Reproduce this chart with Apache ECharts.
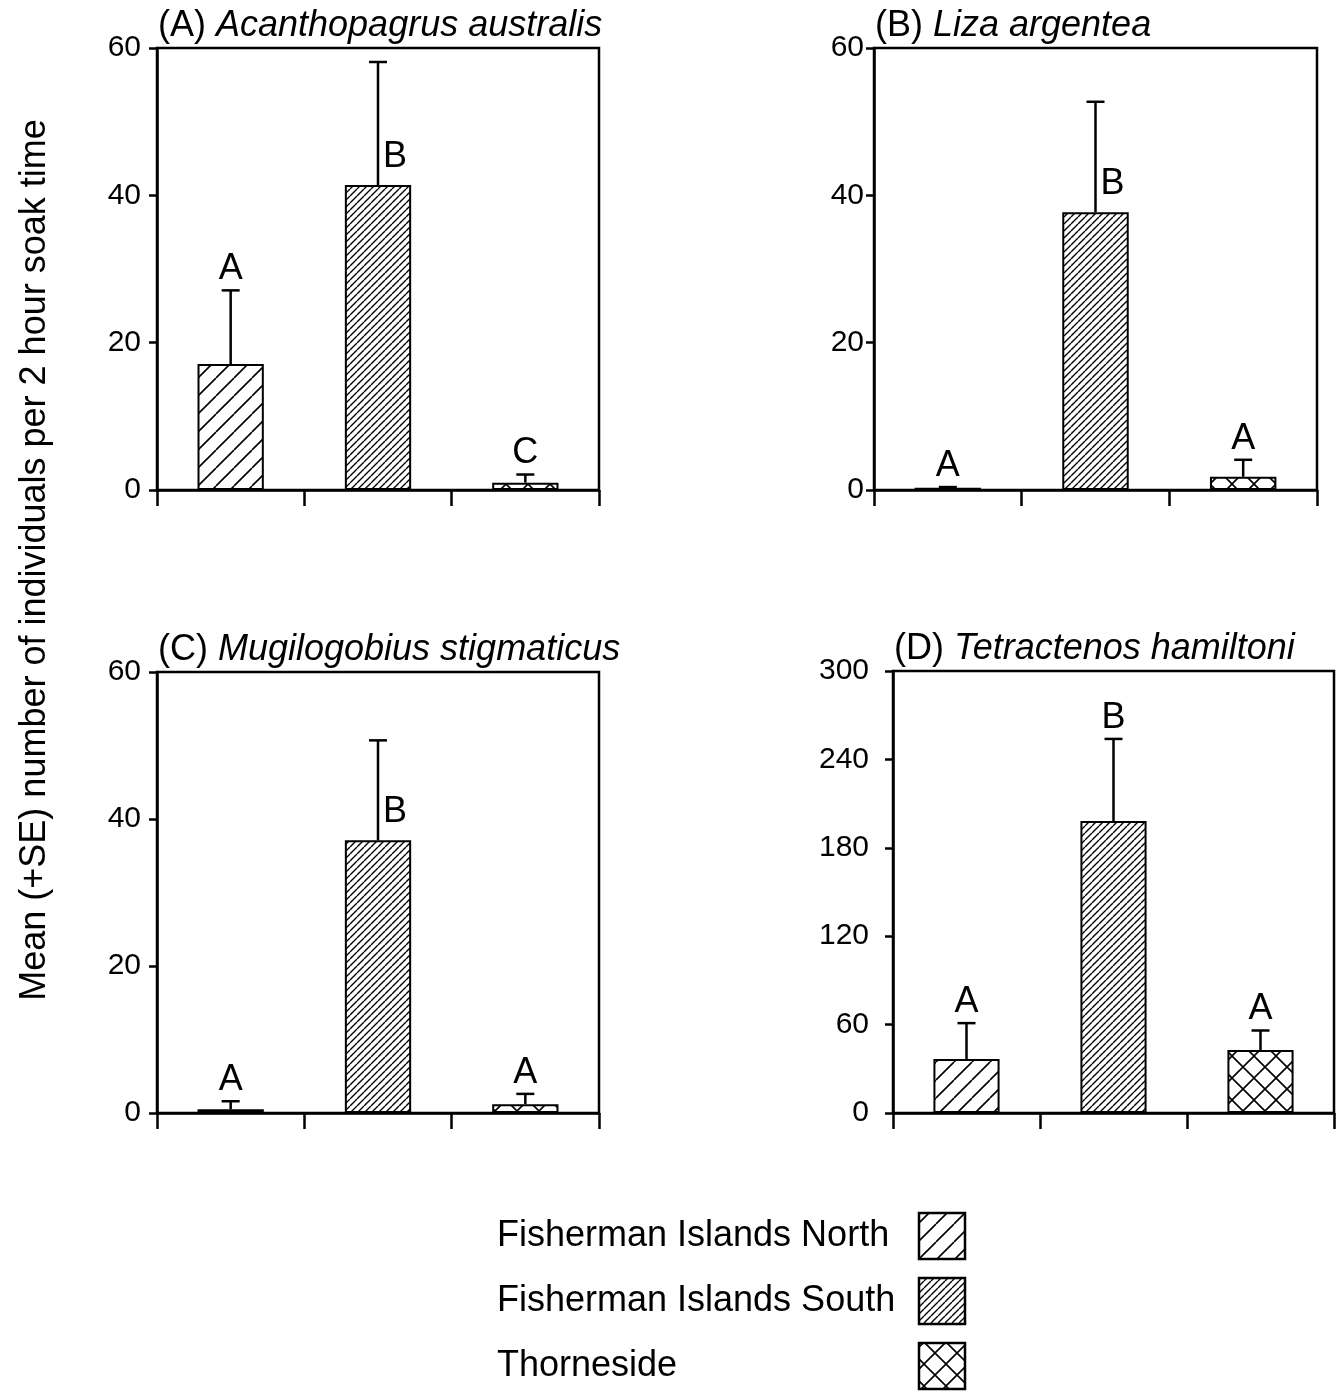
<!DOCTYPE html>
<html><head><meta charset="utf-8">
<script src="https://cdn.jsdelivr.net/npm/echarts@6/dist/echarts.min.js"></script>
<style>html,body{margin:0;padding:0;background:#fff}#c{width:1341px;height:1392px}</style>
</head><body><div id="c"></div>
<script>
// ---- data ----
const categories = ['Fisherman Islands North', 'Fisherman Islands South', 'Thorneside'];
const panelTags = ['(A) ', '(B) ', '(C) ', '(D) '];
const speciesNames = ['Acanthopagrus australis', 'Liza argentea', 'Mugilogobius stigmaticus', 'Tetractenos hamiltoni'];
const meanA = [17.1, 41.4, 1.0];
const seA   = [10.0, 16.7, 1.1];
const meanB = [0.3, 37.7, 1.8];
const seB   = [0.1, 15.0, 2.3];
const meanC = [0.5, 37.1, 1.2];
const seC   = [1.1, 13.6, 1.4];
const meanD = [36.7, 198.2, 42.8];
const seD   = [24.3, 55.7, 13.2];
const lettersA = ['A', 'B', 'C'];
const lettersB = ['A', 'B', 'A'];
const lettersC = ['A', 'B', 'A'];
const lettersD = ['A', 'B', 'A'];
const yMaxes = [60, 60, 60, 300];
const yIntervals = [20, 20, 20, 60];
const yTitle = 'Mean (+SE) number of individuals per 2 hour soak time';

// ---- styling ----
const FONT = '"Liberation Sans", Arial, Helvetica, sans-serif';
function hatch(size, lw, cross) {
  const c = document.createElement('canvas');
  c.width = c.height = size;
  const g = c.getContext('2d');
  g.fillStyle = '#fff'; g.fillRect(0, 0, size, size);
  g.strokeStyle = '#000'; g.lineWidth = lw;
  g.beginPath();
  for (const o of [-size, 0, size]) {
    g.moveTo(o, size); g.lineTo(o + size, 0);
    if (cross) { g.moveTo(o, 0); g.lineTo(o + size, size); }
  }
  g.stroke();
  return { image: c, repeat: 'repeat' };
}
const patterns = [hatch(18, 1.6, false), hatch(7, 1.4, false), hatch(22, 1.6, true)];

const means = [meanA, meanB, meanC, meanD];
const ses = [seA, seB, seC, seD];
const letters = [lettersA, lettersB, lettersC, lettersD];
// label beside the error bar (true) or on top of it (false)
const sideLabel = [[false, true, false], [false, true, false], [false, true, false], [false, false, false]];
const labelMargins = [16, 10, 16, 24];

const grids = [
  { left: 157, top: 48, width: 442, height: 442 },
  { left: 874, top: 48, width: 443, height: 442 },
  { left: 157, top: 672, width: 442, height: 441 },
  { left: 893, top: 671, width: 441, height: 442 }
];

const chart = echarts.init(document.getElementById('c'));
const option = {
  backgroundColor: '#fff',
  animation: false,
  grid: grids.map(g => Object.assign({ show: true, borderColor: '#000', borderWidth: 2.5, backgroundColor: 'transparent' }, g)),
  xAxis: grids.map((g, i) => ({
    type: 'category', gridIndex: i, data: categories, boundaryGap: true,
    axisLine: { lineStyle: { color: '#000', width: 2.5 } },
    axisTick: { show: true, interval: 0, length: 16, inside: false, alignWithLabel: false, lineStyle: { color: '#000', width: 2.5 } },
    axisLabel: { show: false, interval: 0 }, splitLine: { show: false }
  })),
  yAxis: grids.map((g, i) => ({
    type: 'value', gridIndex: i, min: 0, max: yMaxes[i], interval: yIntervals[i],
    axisLine: { show: true, lineStyle: { color: '#000', width: 2.5 } },
    axisTick: { show: true, length: 8, inside: false, lineStyle: { color: '#000', width: 2.5 } },
    axisLabel: { color: '#000', fontSize: 30, fontFamily: FONT, margin: labelMargins[i] },
    splitLine: { show: false }
  })),
  title: grids.map((g, i) => ({
    left: g.left + 1, top: g.top - 40, padding: 0,
    text: '{n|' + panelTags[i] + '}{i|' + speciesNames[i] + '}',
    textStyle: { fontWeight: 'normal', rich: {
      n: { fontSize: 36, fontFamily: FONT, fontWeight: 'normal', color: '#000' },
      i: { fontSize: 36, fontFamily: FONT, fontWeight: 'normal', fontStyle: 'italic', color: '#000' }
    } }
  })),
  series: [],
  graphic: []
};

grids.forEach((g, p) => {
  option.series.push({
    type: 'bar', xAxisIndex: p, yAxisIndex: p, barWidth: '45%',
    data: means[p].map((v, k) => ({ value: v, itemStyle: { color: patterns[k], borderColor: '#000', borderWidth: 2 } })),
    z: 2
  });
  option.series.push({
    type: 'custom', xAxisIndex: p, yAxisIndex: p, clip: false, z: 5,
    data: means[p].map((v, k) => [k, v, ses[p][k]]),
    renderItem: function (params, api) {
      const k = api.value(0), m = api.value(1), s = api.value(2);
      const b = api.coord([k, m]);
      const t = api.coord([k, m + s]);
      const cap = 9;
      const children = [
        { type: 'line', shape: { x1: b[0], y1: b[1], x2: t[0], y2: t[1] }, style: { stroke: '#000', lineWidth: 2.5 } },
        { type: 'line', shape: { x1: t[0] - cap, y1: t[1], x2: t[0] + cap, y2: t[1] }, style: { stroke: '#000', lineWidth: 2.5 } }
      ];
      const idx = params.dataIndex;
      const side = sideLabel[p][idx];
      children.push({
        type: 'text',
        style: {
          text: letters[p][idx],
          x: side ? b[0] + 5 : t[0],
          y: side ? b[1] - 10 : t[1] - 3,
          textAlign: side ? 'left' : 'center',
          textVerticalAlign: 'bottom',
          fontSize: 36, fontFamily: FONT, fill: '#000'
        }
      });
      return { type: 'group', children: children };
    }
  });
});

// y-axis title
option.graphic.push({
  type: 'text', x: 35, y: 560, rotation: Math.PI / 2,
  style: { text: yTitle, fontSize: 36, fontFamily: FONT, fill: '#000', textAlign: 'center', textVerticalAlign: 'middle' }
});
// legend
const legY = [1236, 1301, 1366];
categories.forEach((name, k) => {
  option.graphic.push({
    type: 'text', x: 497, y: legY[k],
    style: { text: name, fontSize: 36, fontFamily: FONT, fill: '#000', textAlign: 'left', textVerticalAlign: 'middle' }
  });
  option.graphic.push({
    type: 'rect', shape: { x: 919, y: legY[k] - 23, width: 46, height: 46 },
    style: { fill: patterns[k], stroke: '#000', lineWidth: 2.5 }
  });
});

chart.setOption(option);
</script>
</body></html>
